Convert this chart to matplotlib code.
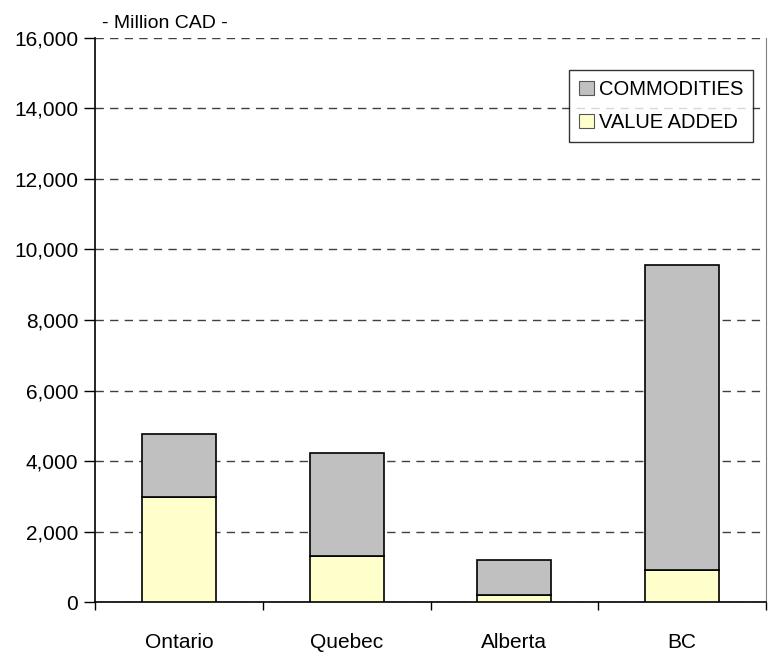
import matplotlib
matplotlib.use("Agg")
import matplotlib.pyplot as plt
import numpy as np

# Exports by province, million CAD
provinces = ["Ontario", "Quebec", "Alberta", "BC"]
value_added = [2980, 1310, 210, 920]
commodities = [1780, 2920, 980, 8630]
y_ticks = [0, 2000, 4000, 6000, 8000, 10000, 12000, 14000, 16000]

plt.rcParams['font.family'] = ['Liberation Sans', 'DejaVu Sans']

W, H = 769, 656
fig = plt.figure(figsize=(W / 100, H / 100), dpi=100)
ax = fig.add_axes([95 / W, 53.7 / H, 671 / W, 564.6 / H])

x = np.arange(len(provinces))
bar_w = 0.44
b1 = ax.bar(x, value_added, bar_w, color="#FFFFCC", edgecolor="black",
            linewidth=1.2, label="VALUE ADDED", zorder=3)
b2 = ax.bar(x, commodities, bar_w, bottom=value_added, color="#C0C0C0",
            edgecolor="black", linewidth=1.2, label="COMMODITIES", zorder=3)

ax.set_xlim(-0.5, len(provinces) - 0.5)
ax.set_ylim(0, 16000)

# y axis
ax.set_yticks(y_ticks)
ax.set_yticklabels([f"{v:,}" for v in y_ticks])
ax.tick_params(axis="y", direction="out", length=8, width=1, pad=4,
               labelsize=15, colors="black")
ax.yaxis.grid(True, linestyle=(0, (6, 4.5)), color="#404040", linewidth=1, zorder=0)

# x axis: tick marks at category boundaries, labels at centers
ax.set_xticks(np.arange(-0.5, len(provinces)), minor=False)
ax.set_xticklabels([])
ax.set_xticks(x, minor=True)
ax.set_xticklabels(provinces, minor=True)
ax.tick_params(axis="x", which="major", direction="out", length=6, width=1)
ax.tick_params(axis="x", which="minor", length=0, pad=22, labelsize=15)

ax.spines["top"].set_visible(False)
ax.spines["right"].set_color("#808080")
ax.spines["left"].set_linewidth(1.2)
ax.spines["bottom"].set_linewidth(1.2)

leg = ax.legend(handles=[b2, b1], loc="upper right",
                bbox_to_anchor=((753 - 95) / 671, (602.3 - 70) / 564.6),
                fontsize=14.5, frameon=True, fancybox=False, shadow=False,
                handlelength=0.7, handleheight=0.7, handletextpad=0.25,
                borderpad=0.5, labelspacing=0.7, borderaxespad=0)
leg.get_frame().set_edgecolor("black")
leg.get_frame().set_linewidth(1)
for h in leg.legend_handles:
    h.set_linewidth(0.8)
    h.set_edgecolor("#555555")

fig.text(102 / W, 1 - 23 / H, "- Million CAD -", fontsize=14, va="center", ha="left")

fig.savefig("out.png", dpi=100)
